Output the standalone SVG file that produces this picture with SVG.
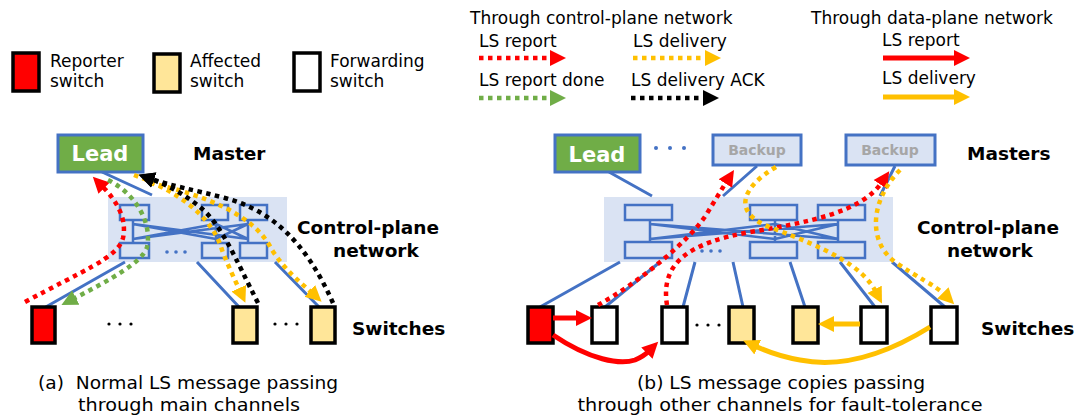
<svg xmlns="http://www.w3.org/2000/svg" width="1079" height="420" viewBox="0 0 1079 420">
<defs>
<style>
text{font-family:"DejaVu Sans","Noto Sans",sans-serif;fill:#000}
.lg{font-size:17px}
.bd{font-size:18.5px;font-weight:bold}
.cap{font-size:18px}
.lead{font-size:21px;font-weight:bold;fill:#fff}
.bk{font-size:14px;font-weight:bold;fill:#A6A6A6}
.sw{stroke:#000;stroke-width:3.5}
.rep{fill:#FF0000}
.aff{fill:#FFE699}
.fwd{fill:#fff}
.link{stroke:#4472C4;stroke-width:3;fill:none}
.cp{fill:#DAE3F3}
.cps{fill:none;stroke:#4472C4;stroke-width:2.5}
.mgreen{fill:#70AD47;stroke:#4472C4;stroke-width:3}
.mback{fill:#DAE3F3;stroke:#4472C4;stroke-width:3}
.dot{fill:none;stroke-width:4.5;stroke-dasharray:4.5 4.5}
.sol{fill:none;stroke-width:5}
.r{stroke:#FF0000}
.y{stroke:#FFC000}
.g{stroke:#70AD47}
.k{stroke:#000}
.dots{fill:#4472C4}
</style>
<marker id="ar" markerUnits="userSpaceOnUse" markerWidth="17" markerHeight="17" viewBox="0 0 17 17" refX="3" refY="8.5" orient="auto"><path d="M0,0.5 L16,8.5 L0,16.5z" fill="#FF0000"/></marker>
<marker id="ay" markerUnits="userSpaceOnUse" markerWidth="17" markerHeight="17" viewBox="0 0 17 17" refX="3" refY="8.5" orient="auto"><path d="M0,0.5 L16,8.5 L0,16.5z" fill="#FFC000"/></marker>
<marker id="ag" markerUnits="userSpaceOnUse" markerWidth="17" markerHeight="17" viewBox="0 0 17 17" refX="3" refY="8.5" orient="auto"><path d="M0,0.5 L16,8.5 L0,16.5z" fill="#70AD47"/></marker>
<marker id="ak" markerUnits="userSpaceOnUse" markerWidth="17" markerHeight="17" viewBox="0 0 17 17" refX="3" refY="8.5" orient="auto"><path d="M0,0.5 L16,8.5 L0,16.5z" fill="#000"/></marker>
</defs>

<!-- Legend -->
<g id="legend-switches">
<rect class="sw rep" x="13" y="53" width="26" height="38"/>
<text class="lg" x="50" y="67">Reporter</text>
<text class="lg" x="50" y="87">switch</text>
<rect class="sw aff" x="154" y="54" width="26" height="38"/>
<text class="lg" x="190" y="67">Affected</text>
<text class="lg" x="190" y="87">switch</text>
<rect class="sw fwd" x="294" y="53" width="26" height="38"/>
<text class="lg" x="330" y="67">Forwarding</text>
<text class="lg" x="330" y="87">switch</text>
</g>
<g id="legend-arrows">
<text class="lg" x="470" y="24">Through control-plane network</text>
<text class="lg" x="479" y="47">LS report</text>
<line class="dot r" x1="479" y1="58" x2="553" y2="58" marker-end="url(#ar)"/>
<text class="lg" x="633" y="47">LS delivery</text>
<line class="dot y" x1="633" y1="58" x2="708" y2="58" marker-end="url(#ay)"/>
<text class="lg" x="479" y="86">LS report done</text>
<line class="dot g" x1="479" y1="98" x2="553" y2="98" marker-end="url(#ag)"/>
<text class="lg" x="631" y="86">LS delivery ACK</text>
<line class="dot k" x1="631" y1="98" x2="706" y2="98" marker-end="url(#ak)"/>
<text class="lg" x="811" y="24">Through data-plane network</text>
<text class="lg" x="882" y="46">LS report</text>
<line class="sol r" x1="883" y1="58" x2="957" y2="58" marker-end="url(#ar)"/>
<text class="lg" x="882" y="84">LS delivery</text>
<line class="sol y" x1="883" y1="97" x2="957" y2="97" marker-end="url(#ay)"/>
</g>

<!-- (a) -->
<g id="a-controlplane">
<rect class="cp" x="108" y="197" width="179" height="65"/>
<rect class="cps" x="120" y="205" width="29" height="15"/>
<rect class="cps" x="120" y="243" width="29" height="15"/>
<rect class="cps" x="202" y="205" width="26" height="15"/>
<rect class="cps" x="202" y="243" width="26" height="15"/>
<rect class="cps" x="240" y="205" width="27" height="15"/>
<rect class="cps" x="240" y="243" width="27" height="15"/>
<path class="cps" d="M133,220 V243 M216,220 V243 M248,220 V243 M133,224 L216,239 M133,224 L248,239 M133,239 L216,224 M133,239 L248,224 M216,224 L248,239 M216,239 L248,224"/>
<circle class="dots" cx="167" cy="252" r="1.8"/><circle class="dots" cx="176" cy="252" r="1.8"/><circle class="dots" cx="185" cy="252" r="1.8"/>
</g>
<g id="a-links">
<path class="link" d="M102,172 L152,195 M125,262 L44,308 M197,262 L240,308 M275,262 L320,308"/>
</g>
<g id="a-master">
<rect class="mgreen" x="58" y="135" width="85" height="37"/>
<text class="lead" x="100" y="161" text-anchor="middle">Lead</text>
<text class="bd" x="193" y="160">Master</text>
</g>
<g id="a-labels">
<text class="bd" x="297" y="234">Control-plane</text>
<text class="bd" x="333" y="257">network</text>
<text class="bd" x="352" y="335">Switches</text>
</g>
<g id="a-switches">
<rect class="sw rep" x="32" y="307" width="23" height="36"/>
<rect class="sw aff" x="233" y="307" width="24" height="36"/>
<rect class="sw aff" x="311" y="307" width="24" height="36"/>
<circle cx="109" cy="324" r="1.6"/><circle cx="120" cy="324" r="1.6"/><circle cx="131" cy="324" r="1.6"/>
<circle cx="275" cy="324" r="1.6"/><circle cx="286" cy="324" r="1.6"/><circle cx="297" cy="324" r="1.6"/>
</g>
<g id="a-arrows">
<path class="dot r" d="M25,302 C80,272 118,258 123,238 C127,220 118,202 102,186" marker-end="url(#ar)"/>
<path class="dot g" d="M108,180 C138,195 152,225 147,247 C143,262 110,280 73,299" marker-end="url(#ag)"/>
<path class="dot y" d="M134,175 C175,190 212,215 222,250 C229,268 235,280 240,291" marker-end="url(#ay)"/>
<path class="dot y" d="M150,183 C205,195 255,215 272,250 C285,270 300,282 312,293" marker-end="url(#ay)"/>
<path class="dot k" d="M258,303 C235,258 222,225 200,207 C185,195 170,186 151,179" marker-end="url(#ak)"/>
<path class="dot k" d="M333,303 C305,240 270,210 225,198 C195,190 172,186 151,179" marker-end="url(#ak)"/>
</g>

<!-- (b) -->
<g id="b-controlplane">
<rect class="cp" x="604" y="197" width="289" height="65"/>
<rect class="cps" x="625" y="205" width="47" height="15"/>
<rect class="cps" x="625" y="242" width="47" height="16"/>
<rect class="cps" x="750" y="205" width="47" height="15"/>
<rect class="cps" x="750" y="242" width="47" height="16"/>
<rect class="cps" x="818" y="205" width="47" height="15"/>
<rect class="cps" x="818" y="242" width="47" height="16"/>
<path class="cps" d="M650,220 V242 M775,220 V242 M838,220 V242 M650,224 L775,239 M650,224 L838,239 M650,239 L775,224 M650,239 L838,224 M775,224 L838,239 M775,239 L838,224"/>
<circle class="dots" cx="702" cy="251" r="1.8"/><circle class="dots" cx="711" cy="251" r="1.8"/><circle class="dots" cx="720" cy="251" r="1.8"/>
</g>
<g id="b-links">
<path class="link" d="M609,172 L652,196 M757,166 L723,196 M895,166 L880,196 M620,262 L540,307 M660,262 L605,307 M695,262 L683,307 M733,262 L743,307 M790,262 L805,307 M840,262 L875,307 M892,262 L945,307"/>
</g>
<g id="b-masters">
<rect class="mgreen" x="555" y="135" width="85" height="37"/>
<text class="lead" x="597" y="162" text-anchor="middle">Lead</text>
<circle class="dots" cx="656" cy="148" r="2"/><circle class="dots" cx="670" cy="148" r="2"/><circle class="dots" cx="684" cy="148" r="2"/>
<rect class="mback" x="713" y="135" width="88" height="30"/>
<text class="bk" x="757" y="155" text-anchor="middle">Backup</text>
<rect class="mback" x="846" y="135" width="89" height="30"/>
<text class="bk" x="890" y="155" text-anchor="middle">Backup</text>
<text class="bd" x="967" y="160">Masters</text>
</g>
<g id="b-labels">
<text class="bd" x="917" y="234">Control-plane</text>
<text class="bd" x="947" y="257">network</text>
<text class="bd" x="981" y="335">Switches</text>
</g>
<g id="b-switches">
<rect class="sw rep" x="528" y="307" width="25" height="36"/>
<rect class="sw fwd" x="592" y="307" width="25" height="36"/>
<rect class="sw fwd" x="662" y="307" width="25" height="36"/>
<rect class="sw aff" x="729" y="307" width="25" height="36"/>
<rect class="sw aff" x="793" y="307" width="25" height="36"/>
<rect class="sw fwd" x="861" y="307" width="26" height="36"/>
<rect class="sw fwd" x="931" y="307" width="26" height="36"/>
<circle cx="697" cy="325" r="1.6"/><circle cx="708" cy="325" r="1.6"/><circle cx="719" cy="325" r="1.6"/>
</g>
<g id="b-arrows">
<path class="dot r" d="M598,305 C640,282 690,240 706,215 C714,202 720,192 727,181" marker-end="url(#ar)"/>
<path class="dot r" d="M667,305 C660,262 690,243 750,232 C810,222 862,212 882,182" marker-end="url(#ar)"/>
<path class="dot y" d="M776,167 C745,185 728,212 772,228 C825,248 862,265 876,292" marker-end="url(#ay)"/>
<path class="dot y" d="M900,170 C872,198 866,240 895,262 C918,278 935,285 945,295" marker-end="url(#ay)"/>
<line class="sol r" x1="553" y1="318" x2="579" y2="318" marker-end="url(#ar)"/>
<path class="sol r" d="M553,335 C590,360 620,365 635,360 C642,357 646,354 649,351" marker-end="url(#ar)"/>
<line class="sol y" x1="860" y1="324" x2="831" y2="324" marker-end="url(#ay)"/>
<path class="sol y" d="M930,327 C885,355 840,368 800,360 C782,357 768,352 755,346" marker-end="url(#ay)"/>
</g>

<g id="captions">
<text class="cap" x="188" y="389" text-anchor="middle" textLength="300" lengthAdjust="spacingAndGlyphs" xml:space="preserve">(a)  Normal LS message passing</text>
<text class="cap" x="189" y="411" text-anchor="middle" textLength="222" lengthAdjust="spacingAndGlyphs">through main channels</text>
<text class="cap" x="781" y="389" text-anchor="middle" textLength="288" lengthAdjust="spacingAndGlyphs">(b) LS message copies passing</text>
<text class="cap" x="780" y="411" text-anchor="middle" textLength="405" lengthAdjust="spacingAndGlyphs">through other channels for fault-tolerance</text>
</g>
</svg>
